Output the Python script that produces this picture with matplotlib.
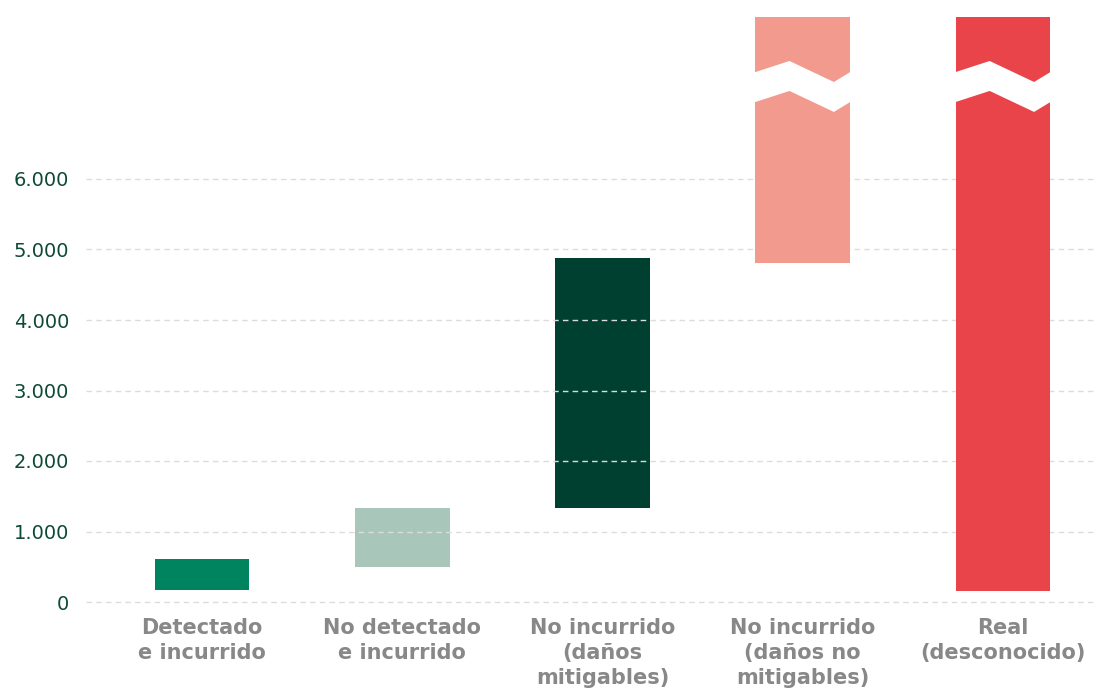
import numpy as np
import matplotlib
matplotlib.use("Agg")
import matplotlib.pyplot as plt
from matplotlib.patches import Polygon

# data
categories = ["Detectado\ne incurrido", "No detectado\ne incurrido",
              "No incurrido\n(daños\nmitigables)", "No incurrido\n(daños no\nmitigables)",
              "Real\n(desconocido)"]
bottoms = np.array([170, 496, 1333, 4809, 156])
tops = np.array([610, 1333, 4879, 8298, 8298])
colors = ["#00845F", "#A8C7BA", "#004030", "#F29A8E", "#E8444A"]
broken = [False, False, False, True, True]  # bars that go off the scale
yticks = [0, 1000, 2000, 3000, 4000, 5000, 6000]
ytick_labels = ["0", "1.000", "2.000", "3.000", "4.000", "5.000", "6.000"]

W, H = 1096, 689
fig = plt.figure(figsize=(W / 100, H / 100), dpi=100)
# axes from x=86..1096 px, y=0..620 px (from top)
ax = fig.add_axes([86 / W, (H - 620) / H, (W - 86) / W, 620 / H])

px = 1000 / 70.5  # data units per pixel
ax.set_ylim(-(620 - 602) * px, 602 * px)
ax.set_xlim(-0.58, 4.465)

x = np.arange(len(categories)) * 1.0
width = 0.472
for i in range(len(x)):
    # red bars sit above the grid, green ones below it
    z = 5 if broken[i] else 2
    ax.bar(x[i], tops[i] - bottoms[i], bottom=bottoms[i], width=width,
           color=colors[i], zorder=z)

# zigzag break (white band)
fx = np.array([0.0, 0.36, 0.83, 1.0])
top_edge = np.array([7508, 7674, 7376, 7532])
band = 425
for i in range(len(x)):
    if not broken[i]:
        continue
    left = x[i] - width / 2
    xs = left + fx * width
    xs[0] -= 0.01
    xs[-1] += 0.01
    pts = list(zip(xs, top_edge)) + list(zip(xs[::-1], (top_edge - band)[::-1]))
    ax.add_patch(Polygon(pts, closed=True, facecolor="white", edgecolor="none", zorder=6))

# grid
for t in yticks:
    ax.axhline(t, color="#DCDCDC", lw=1, ls=(0, (4, 3)), zorder=4)

ax.set_yticks(yticks)
ax.set_yticklabels(ytick_labels, color="#0D4A34", fontsize=14)
ax.tick_params(axis="y", length=0, pad=12)
ax.set_xticks([])
for s in ax.spines.values():
    s.set_visible(False)

for i, lab in enumerate(categories):
    ax.text(x[i], -230, lab, ha="center", va="top", fontsize=15,
            fontweight="bold", color="#888888", linespacing=1.32,
            transform=ax.transData, clip_on=False)

fig.savefig("out.png", dpi=100)
